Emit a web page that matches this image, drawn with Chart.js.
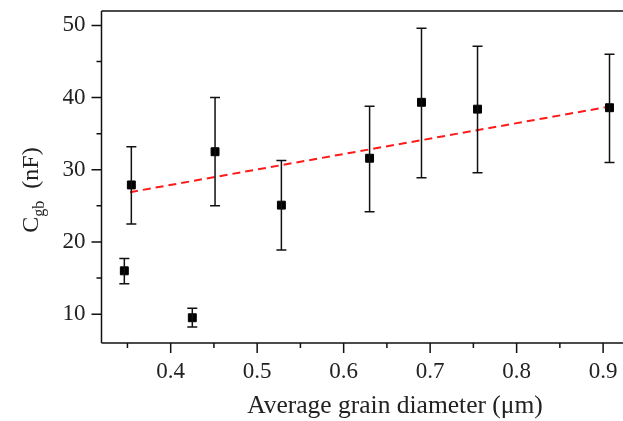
<!DOCTYPE html>
<html>
<head>
<meta charset="utf-8">
<script src="https://cdn.jsdelivr.net/npm/chart.js@4/dist/chart.umd.min.js"></script>
<style>
  html, body { margin: 0; padding: 0; background: #fff; }
  #wrap { width: 623px; height: 421px; }
</style>
</head>
<body>
<div id="wrap"><canvas id="grainChart" width="623" height="421"></canvas></div>
<script>
// grain diameter (um) vs grain-boundary capacitance (nF)
const diameters = [0.3545, 0.3464, 0.425, 0.4513, 0.528, 0.630, 0.690, 0.7548, 0.9074];
const cgbValues = [27.9, 16.0, 9.5, 32.5, 25.1, 31.6, 39.35, 38.4, 38.6];
const errLow  = [22.5, 14.2, 8.2, 25.0, 18.9, 24.2, 28.9, 29.6, 31.0];
const errHigh = [33.2, 17.7, 10.8, 40.0, 31.3, 38.8, 49.6, 47.1, 46.0];

// linear fit (red dashed)
const fitX = [0.353, 0.907];
const fitY = [26.9, 38.75];

const xTicks = [0.35, 0.4, 0.45, 0.5, 0.55, 0.6, 0.65, 0.7, 0.75, 0.8, 0.85, 0.9];
const yTicks = [10, 15, 20, 25, 30, 35, 40, 45, 50];

const FONT = "'Liberation Serif', 'DejaVu Serif', serif";
const isMajorX = v => Math.abs(Math.round(v * 10) - v * 10) < 1e-6;
const isMajorY = v => v % 10 === 0;

const errorBars = {
  id: "errorBars",
  afterDatasetsDraw(chart) {
    const { ctx, scales: { x, y } } = chart;
    ctx.save();
    ctx.strokeStyle = "#111";
    ctx.lineWidth = 1.5;
    diameters.forEach((d, i) => {
      const px = x.getPixelForValue(d);
      const top = y.getPixelForValue(errHigh[i]);
      const bot = y.getPixelForValue(errLow[i]);
      ctx.beginPath();
      ctx.moveTo(px, top); ctx.lineTo(px, bot);
      ctx.moveTo(px - 5, top); ctx.lineTo(px + 5, top);
      ctx.moveTo(px - 5, bot); ctx.lineTo(px + 5, bot);
      ctx.stroke();
    });
    ctx.restore();
  }
};

const frame = {
  id: "frame",
  afterDraw(chart) {
    const { ctx, chartArea: a, scales: { x, y } } = chart;
    ctx.save();
    ctx.strokeStyle = "#111";
    ctx.lineWidth = 1.5;
    ctx.beginPath();
    ctx.moveTo(a.left, a.top); ctx.lineTo(chart.width, a.top);
    ctx.moveTo(a.left, a.top); ctx.lineTo(a.left, a.bottom);
    ctx.moveTo(a.left, a.bottom); ctx.lineTo(chart.width, a.bottom);
    // ticks, outward
    xTicks.forEach(v => {
      const px = x.getPixelForValue(v);
      ctx.moveTo(px, a.bottom); ctx.lineTo(px, a.bottom + (isMajorX(v) ? 10 : 5));
    });
    yTicks.forEach(v => {
      const py = y.getPixelForValue(v);
      ctx.moveTo(a.left, py); ctx.lineTo(a.left - (isMajorY(v) ? 10 : 5), py);
    });
    ctx.stroke();

    ctx.fillStyle = "#222";
    // x title (the original plot is cropped on the right, so it sits off-centre)
    ctx.font = "25.5px " + FONT;
    ctx.textAlign = "center";
    ctx.textBaseline = "middle";
    ctx.fillText("Average grain diameter (μm)", 395, 406);

    // y title with subscript
    ctx.textAlign = "left";
    ctx.textBaseline = "alphabetic";
    ctx.translate(30, 190);
    ctx.rotate(-Math.PI / 2);
    const big = "24px " + FONT, small = "16px " + FONT;
    ctx.font = big;
    const wC = ctx.measureText("C").width;
    const wRest = ctx.measureText("  (nF)").width;
    ctx.font = small;
    const wSub = ctx.measureText("gb").width;
    let cx = -(wC + wSub + wRest) / 2;
    ctx.font = big;
    ctx.fillText("C", cx, 8); cx += wC;
    ctx.font = small;
    ctx.fillText("gb", cx, 14); cx += wSub;
    ctx.font = big;
    ctx.fillText("  (nF)", cx, 8);
    ctx.restore();
  }
};

new Chart(document.getElementById("grainChart"), {
  type: "scatter",
  data: {
    datasets: [
      {
        label: "Cgb",
        data: diameters.map((d, i) => ({ x: d, y: cgbValues[i] })),
        pointStyle: "rect",
        pointRadius: 5.6,
        backgroundColor: "#000",
        borderColor: "#000",
        borderWidth: 1
      },
      {
        type: "line",
        label: "fit",
        data: fitX.map((d, i) => ({ x: d, y: fitY[i] })),
        borderColor: "#ff1a1a",
        borderWidth: 2,
        borderDash: [8, 5],
        pointRadius: 0,
        fill: false
      }
    ]
  },
  options: {
    responsive: false,
    animation: false,
    layout: { autoPadding: false, padding: { top: 11, right: 0, left: 0, bottom: 0 } },
    plugins: { legend: { display: false }, tooltip: { enabled: false } },
    scales: {
      x: {
        type: "linear",
        min: 0.32,
        max: 0.923,
        afterBuildTicks: s => { s.ticks = xTicks.map(v => ({ value: v })); },
        afterFit: s => { s.height = 78; s.paddingLeft = 0; s.paddingRight = 0; },
        border: { display: false },
        grid: { display: false },
        ticks: {
          color: "#222",
          font: { family: FONT, size: 23 },
          padding: 7,
          maxRotation: 0,
          autoSkip: false,
          callback: v => isMajorX(v) ? (Math.round(v * 10) / 10).toFixed(1) : ""
        }
      },
      y: {
        min: 6,
        max: 52,
        afterBuildTicks: s => { s.ticks = yTicks.map(v => ({ value: v })); },
        afterFit: s => { s.width = 101.5; s.paddingTop = 0; s.paddingBottom = 0; },
        border: { display: false },
        grid: { display: false },
        ticks: {
          color: "#222",
          font: { family: FONT, size: 23 },
          padding: 8,
          autoSkip: false,
          callback: v => isMajorY(v) ? String(v) : ""
        }
      }
    }
  },
  plugins: [errorBars, frame]
});
</script>
</body>
</html>
